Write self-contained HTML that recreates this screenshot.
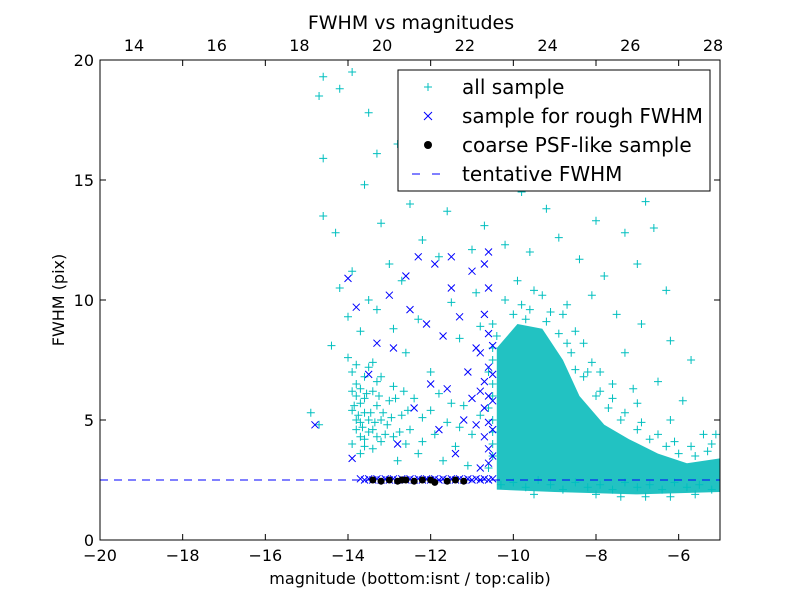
<!DOCTYPE html>
<html><head><meta charset="utf-8">
<style>
body{margin:0;background:#fff;}
svg{display:block;font-family:"DejaVu Sans","Liberation Sans",sans-serif;}
</style></head>
<body>
<svg id="chart" width="800" height="600" xmlns="http://www.w3.org/2000/svg">
<rect x="0" y="0" width="800" height="600" fill="#fff"/>
<text x="411" y="29" font-size="19" text-anchor="middle">FWHM vs magnitudes</text>
<text x="410" y="584" font-size="16" text-anchor="middle">magnitude (bottom:isnt / top:calib)</text>
<text x="64" y="300" font-size="16" text-anchor="middle" transform="rotate(-90 64 300)">FWHM (pix)</text>
<g id="marks"></g>
<g id="axes"></g>
</svg>
<script>
const xTicks=[-20,-18,-16,-14,-12,-10,-8,-6];
const yTicks=[0,5,10,15,20];
const topTicks=[14,16,18,20,22,24,26,28];
const tentativeFwhm=2.5;
const denseRegion=[[-10.4,2.1],[-10.4,8.0],[-9.9,9.0],[-9.3,8.8],[-8.8,7.5],[-8.4,6.0],[-7.8,4.8],[-7.2,4.2],[-6.5,3.6],[-5.8,3.2],[-5.0,3.4],[-5.0,2.0],[-7.0,1.9],[-9.0,2.0]];
const allSample=[
[-14.7,18.5],[-14.6,19.3],[-14.2,18.8],[-13.9,19.5],[-13.5,17.8],[-13.3,16.1],[-12.8,16.5],[-12.4,19.2],[-12.0,17.0],[-11.4,16.8],[-11.0,15.5],[-10.8,19.0],[-13.6,14.8],[-14.6,15.9],[-14.6,13.5],[-14.3,12.8],[-13.2,13.2],[-12.5,14.0],[-11.6,13.7],[-12.2,12.5],[-13.0,11.5],[-13.9,11.2],[-14.2,10.5],[-13.5,10.0],[-12.7,10.8],[-11.8,11.8],[-11.0,12.1],[-10.7,13.1],[-14.0,9.3],[-13.7,8.7],[-13.3,9.6],[-12.9,8.8],[-12.3,9.2],[-11.5,9.9],[-10.9,10.3],[-14.4,8.1],[-14.0,7.6],[-13.4,7.4],[-12.6,7.8],[-12.0,7.0],[-11.3,8.4],[-10.8,8.9],
[-13.9,7.0],[-13.8,6.5],[-13.8,6.0],[-13.7,5.7],[-13.6,5.3],[-13.7,4.9],[-13.5,4.5],[-13.4,6.2],[-13.3,5.6],[-13.2,5.0],[-13.6,4.2],[-13.4,3.8],[-13.1,4.4],[-13.0,5.8],[-12.9,6.4],[-12.7,5.2],[-12.5,4.6],[-12.4,5.9],[-12.2,4.1],[-12.0,5.4],[-11.8,6.1],[-11.6,4.9],[-11.4,3.9],[-11.2,5.6],[-11.0,4.4],[-10.8,5.2],[-14.9,5.3],[-14.7,4.8],[-13.9,5.4],[-13.8,4.6],[-13.6,6.8],[-13.5,7.2],[-13.2,6.8],[-13.9,4.0],[-13.7,3.6],[-12.8,3.3],[-12.3,3.6],[-11.7,3.3],[-11.1,3.1],[-13.8,5.0],[-13.7,6.3],[-13.6,5.9],[-13.5,5.0],[-13.8,7.3],[-13.3,4.3],
[-13.85,5.6],[-13.75,5.2],[-13.65,4.7],[-13.55,6.1],[-13.45,5.3],[-13.35,4.9],[-13.25,6.0],[-13.15,5.3],[-13.05,4.8],[-12.95,5.1],[-12.85,5.9],[-12.75,4.5],[-12.65,6.2],[-12.55,5.4],[-13.9,6.2],[-13.7,4.3],[-13.6,3.9],[-13.4,4.6],[-13.3,6.6],[-13.2,4.1],[-12.9,4.3],[-12.6,4.0],[-12.2,5.1],[-11.9,4.4],[-11.5,5.7],[-11.3,4.7],
[-10.6,3.0],[-10.5,3.5],[-10.5,4.0],[-10.5,4.5],[-10.5,5.0],[-10.6,5.5],[-10.5,6.0],[-10.5,6.5],[-10.6,7.0],[-10.5,7.5],[-10.5,8.0],[-10.4,8.5],[-10.5,9.0],
[-10.0,17.0],[-9.5,16.5],[-9.0,15.8],[-8.6,17.5],[-8.2,16.0],[-7.6,15.5],[-6.8,14.1],[-9.8,14.5],[-9.2,13.8],[-8.8,14.8],[-8.0,13.3],[-7.3,12.8],[-6.6,13.0],[-10.2,12.3],[-9.6,12.0],[-8.9,12.6],[-8.4,11.7],[-7.8,11.0],[-7.0,11.5],[-6.3,10.4],[-9.9,10.8],[-9.3,10.2],[-8.7,9.8],[-8.1,10.2],[-7.5,9.4],[-6.9,9.0],[-6.2,8.3],[-5.7,7.5],[-7.3,7.8],[-6.5,6.6],[-5.9,5.8],[-5.4,4.4],[-5.1,4.4],[-6.2,5.0],[-7.0,5.7],[-7.6,6.5],[-8.1,7.4],[-8.5,8.7],[-9.6,9.6],[-10.2,10.0],
[-10.0,9.4],[-9.7,9.2],[-9.2,9.1],[-8.9,8.6],[-8.6,7.8],[-8.3,6.8],[-8.0,6.0],[-7.7,5.5],[-7.4,5.0],[-7.0,4.6],[-6.7,4.2],[-6.3,3.9],[-6.0,3.6],[-5.6,3.5],[-5.3,3.7],[-9.5,10.4],[-8.8,9.4],[-8.3,8.2],[-7.9,7.0],[-7.1,6.3],
[-9.8,9.8],[-9.1,9.5],[-8.7,8.2],[-8.2,7.0],[-7.6,5.9],[-7.3,5.3],[-6.9,4.9],[-6.5,4.4],[-6.1,4.1],[-5.7,3.9],[-5.2,4.0],[-8.5,7.1],[-7.9,6.2],
[-10.3,2.3],[-10.0,2.4],[-9.7,2.2],[-9.4,2.5],[-9.1,2.3],[-8.8,2.1],[-8.5,2.4],[-8.2,2.2],[-7.9,2.3],[-7.6,2.1],[-7.3,2.4],[-7.0,2.2],[-6.7,2.3],[-6.4,2.1],[-6.1,2.4],[-5.8,2.2],[-5.5,2.3],[-5.2,2.1],[-8.0,1.9],[-6.8,1.8],[-5.6,1.9],[-9.5,1.9],[-7.4,1.8],[-6.2,1.8]
];
const roughSample=[
[-13.7,2.55],[-13.6,2.5],[-13.5,2.55],[-13.4,2.5],[-13.3,2.55],[-13.2,2.5],[-13.1,2.55],[-13.0,2.5],[-12.9,2.55],[-12.8,2.5],[-12.7,2.55],[-12.6,2.5],[-12.5,2.55],[-12.4,2.5],[-12.3,2.55],[-12.2,2.5],[-12.1,2.55],[-12.0,2.5],[-11.9,2.55],[-11.8,2.5],[-11.7,2.55],[-11.6,2.5],[-11.5,2.55],[-11.4,2.5],[-11.3,2.55],[-11.2,2.5],[-11.1,2.55],[-11.0,2.5],[-10.9,2.55],[-10.8,2.5],[-10.7,2.55],[-10.6,2.5],[-10.5,2.55],
[-10.6,3.2],[-10.6,3.8],[-10.7,4.3],[-10.6,4.9],[-10.7,5.5],[-10.6,6.0],[-10.7,6.6],[-10.6,7.2],[-10.8,7.8],[-10.6,8.6],[-10.7,9.4],[-10.6,10.5],[-10.7,11.5],[-10.6,12.0],[-10.5,3.5],[-10.5,4.6],[-10.5,5.8],[-10.5,6.9],[-10.5,8.1],[-10.8,3.0],[-10.8,6.2],[-10.9,4.8],
[-14.0,10.9],[-13.8,9.7],[-13.5,6.9],[-13.3,8.2],[-13.0,10.2],[-12.9,8.0],[-12.6,11.0],[-12.3,11.8],[-12.1,9.0],[-11.9,11.5],[-11.7,8.5],[-11.6,6.3],[-11.5,11.8],[-11.3,9.3],[-11.1,7.0],[-11.0,5.9],[-10.9,8.0],[-12.0,6.5],[-12.4,5.5],[-12.8,4.0],[-11.8,4.6],[-11.4,3.6],[-11.2,5.0],[-14.8,4.8],[-13.9,3.4],[-12.5,9.6],[-11.5,10.5],[-11.0,11.2]
];
const psfSample=[[-13.4,2.5],[-13.2,2.45],[-13.0,2.5],[-12.8,2.45],[-12.7,2.5],[-12.6,2.5],[-12.4,2.45],[-12.2,2.5],[-12.0,2.5],[-11.9,2.4],[-11.6,2.45],[-11.4,2.5],[-11.2,2.45]];

const L=100,R=720,T=60,B=540;
const xS=v=>L+(v+20)/15*(R-L);
const yS=v=>B-v/20*(B-T);
const tS=v=>134+(v-14)*(713-134)/14;
const NS='http://www.w3.org/2000/svg';
const marks=document.getElementById('marks');
const axes=document.getElementById('axes');
function mk(tag,attrs,parent){const e=document.createElementNS(NS,tag);for(const k in attrs)e.setAttribute(k,attrs[k]);parent.appendChild(e);return e;}

const clip=mk('clipPath',{id:'pc'},marks);mk('rect',{x:L,y:T,width:R-L,height:B-T},clip);
const g=mk('g',{'clip-path':'url(#pc)'},marks);

const poly=mk('polygon',{points:denseRegion.map(p=>xS(p[0])+','+yS(p[1])).join(' '),fill:'#22c2c2'},g);



allSample.forEach(p=>{const x=xS(p[0]),y=yS(p[1]);
 const e=mk('path',{d:`M${x-4} ${y}H${x+4}M${x} ${y-4}V${y+4}`,stroke:'#00bfbf','stroke-width':1},g);
 
 });
roughSample.forEach(p=>{const x=xS(p[0]),y=yS(p[1]);
 const e=mk('path',{d:`M${x-3.5} ${y-3.5}L${x+3.5} ${y+3.5}M${x-3.5} ${y+3.5}L${x+3.5} ${y-3.5}`,stroke:'#0000ff','stroke-width':1},g);
 
 });
const dl=mk('line',{x1:L,x2:R,y1:yS(tentativeFwhm),y2:yS(tentativeFwhm),stroke:'#0000ff','stroke-width':1,'stroke-dasharray':'8,6'},g);


psfSample.forEach(p=>{const e=mk('circle',{cx:xS(p[0]),cy:yS(p[1]),r:3.5,fill:'#000'},g);
 
 });

const frame=mk('rect',{x:L,y:T,width:R-L,height:B-T,fill:'none',stroke:'#000','stroke-width':1},axes);


xTicks.forEach(v=>{const x=xS(v);
 mk('path',{d:`M${x} ${B}v-6M${x} ${T}v6`,stroke:'#000'},axes);
 const t=mk('text',{x:x,y:B+21,'font-size':16,'text-anchor':'middle'},axes);t.textContent=(v<0?'\u2212'+(-v):v);
 
 });
topTicks.forEach(v=>{const x=tS(v);
 const t=mk('text',{x:x,y:T-9,'font-size':16,'text-anchor':'middle'},axes);t.textContent=v;
 
 });
yTicks.forEach(v=>{const y=yS(v);
 mk('path',{d:`M${L} ${y}h6M${R} ${y}h-6`,stroke:'#000'},axes);
 const t=mk('text',{x:L-6,y:y+6,'font-size':16,'text-anchor':'end'},axes);t.textContent=v;
 
 });

const lg=mk('g',{},axes);


mk('rect',{x:398,y:70,width:312,height:121,fill:'#fff',stroke:'#000'},lg);
const items=[['all sample','plus'],['sample for rough FWHM','x'],['coarse PSF-like sample','dot'],['tentative FWHM','dash']];
items.forEach((it,i)=>{const y=87+i*29,x=428;
 if(it[1]=='plus')mk('path',{d:`M${x-4} ${y}H${x+4}M${x} ${y-4}V${y+4}`,stroke:'#00bfbf'},lg);
 if(it[1]=='x')mk('path',{d:`M${x-4} ${y-4}L${x+4} ${y+4}M${x-4} ${y+4}L${x+4} ${y-4}`,stroke:'#0000ff'},lg);
 if(it[1]=='dot')mk('circle',{cx:x,cy:y,r:4,fill:'#000'},lg);
 if(it[1]=='dash')mk('path',{d:`M${x-16} ${y}h8M${x+4} ${y}h8`,stroke:'#0000ff'},lg);
 const t=mk('text',{x:462,y:y+7,'font-size':20},lg);t.textContent=it[0];
 
 });
</script>
</body></html>
